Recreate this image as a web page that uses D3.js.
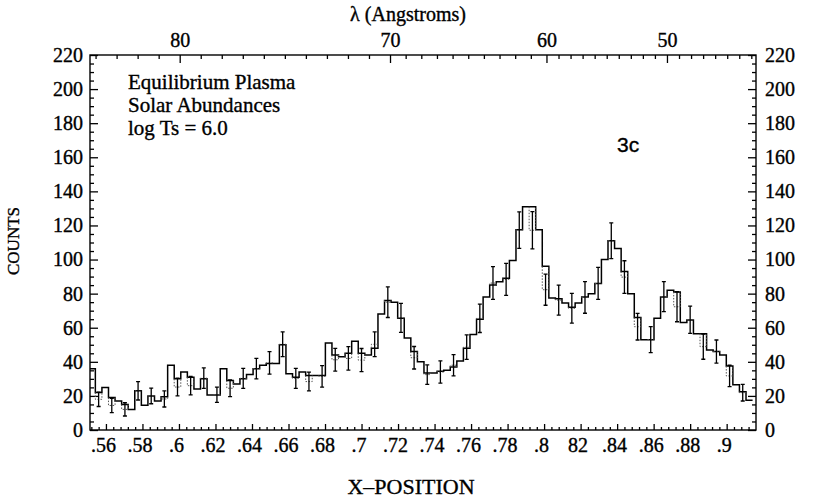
<!DOCTYPE html>
<html>
<head>
<meta charset="utf-8">
<script src="https://cdn.jsdelivr.net/npm/d3@7"></script>
<style>
  body { margin: 0; background: #fff; }
  svg { display: block; background: #fff; }
  text { font-family: "Liberation Serif", "DejaVu Serif", serif; fill: #000; stroke: #000; stroke-width: 0.35px; }
</style>
</head>
<body>
<div id="chart"></div>
<script>
/**
 * Data
 */
// model histogram, fine bins starting at binStart
const binStart = 0.5506;
const binWidth = 0.0036;
const modelCounts = [
  36, 22, 25, 19, 17, 15, 12, 23, 14.5, 20,
  17, 19.5, 38, 30, 34, 31, 24, 30, 20.5, 20.5,
  36, 29, 27, 30, 32.5, 36, 38, 39, 39, 50,
  33, 31, 34, 32, 32, 32, 51, 44, 43, 45,
  52, 45, 44, 48, 68, 76, 75, 65.5, 54, 46,
  40, 33.5, 33.5, 34.5, 35, 37, 40.5, 48, 56, 65,
  78, 85, 87, 89, 99.5, 117.5, 131, 131, 117.5, 96,
  77.5, 77, 74.5, 72, 74.5, 78, 80, 86, 100, 111,
  106.5, 93, 80, 66, 53, 53, 65.5, 78, 82, 81,
  63, 64.5, 56.5, 56.5, 47, 46, 44, 37.5, 26.5, 22.5,
  17.5
];
// measured counts, one in every other fine bin (bins 1, 3, 5 ...)
const dataCounts = [
  18, 14.4, 12.1, 23, 20, 18.2, 25.2, 26, 30.4, 20.7,
  24.5, 30.3, 36, 39.4, 50.3, 30.3, 28.4, 31.5, 41.2, 42,
  41, 50.3, 75, 65.8, 42.4, 32.5, 34, 38, 48.6, 65.5,
  86.2, 88.4, 117.3, 117.2, 82.3, 76.2, 71.4, 77.8, 86, 111,
  89.7, 60.6, 53, 78.2, 72.3, 64.7, 48.9, 46, 31.7, 21.9
];
const dataErrors = [
  4.2, 4.2, 3.9, 5.4, 4.6, 4.7, 5.2, 5.4, 6, 4.5,
  4.9, 5.9, 6, 6.6, 7.3, 5.9, 5.5, 6.3, 6.7, 6.9,
  6.8, 7.3, 9, 8.5, 6.6, 5.7, 6.5, 6.2, 7.2, 8.3,
  9.6, 9.4, 10.7, 10.9, 9.1, 8.8, 8.7, 9.3, 9.4, 10.5,
  9.6, 7.8, 7.6, 8.8, 8.8, 8, 7.4, 6.8, 6.3, 4.9
];

const xTickValues = [0.56, 0.58, 0.60, 0.62, 0.64, 0.66, 0.68, 0.70, 0.72,
  0.74, 0.76, 0.78, 0.80, 0.82, 0.84, 0.86, 0.88, 0.90];
const xTickLabels = ['.56', '.58', '.6', '.62', '.64', '.66', '.68', '.7', '.72',
  '.74', '.76', '.78', '.8', '82', '.84', '.86', '.88', '.9'];
const yTickValues = [0, 20, 40, 60, 80, 100, 120, 140, 160, 180, 200, 220];
// wavelength scale on top: lambda -> X-position
const lambdaTicks = [80, 70, 60, 50];
const lambdaAtX = [0.6004, 0.7156, 0.8013, 0.8673];
const notes = ['Equilibrium Plasma', 'Solar Abundances', 'log Ts = 6.0'];

/**
 * Basic Settings
 */
const canvasWidth = 813;
const canvasHeight = 499;
const frame = { left: 90, right: 756 };

const x = d3.scaleLinear()
  .domain([0.55127, 0.91607])
  .range([frame.left, frame.right]);
const y = d3.scaleLinear()
  .domain([0, 220])
  .range([430, 55]);
const lam = d3.scaleLinear()
  .domain(lambdaTicks)
  .range(lambdaAtX.map(x));

const svg = d3.select('#chart')
  .append('svg')
  .attr('width', canvasWidth)
  .attr('height', canvasHeight);

svg.append('defs').append('clipPath')
  .attr('id', 'plot-clip')
  .append('rect')
  .attr('x', frame.left)
  .attr('y', y(220))
  .attr('width', frame.right - frame.left)
  .attr('height', y(0) - y(220));

/**
 * Axes
 */
function styleAxis(g, size) {
  g.select('.domain').remove();
  g.selectAll('line').attr('stroke', '#000').attr('stroke-width', 1.3);
  g.selectAll('text')
    .style('font-family', '"Liberation Serif", serif')
    .style('font-size', size + 'px')
    .attr('fill', '#000');
}

const xMinor = d3.range(138, 229).map(i => i * 0.004)
  .filter(v => Math.abs(v / 0.02 - Math.round(v / 0.02)) > 1e-6);
const yMinor = d3.range(0, 221, 5).filter(v => v % 20 !== 0);
const lamMinor = d3.range(42, 85).filter(v => lambdaTicks.indexOf(v) < 0)
  .filter(v => lam(v) > frame.left + 1 && lam(v) < frame.right - 1);

// bottom
svg.append('g')
  .attr('transform', `translate(0, ${y(0)})`)
  .call(d3.axisBottom(x).tickValues(xMinor).tickFormat('').tickSizeInner(-3).tickSizeOuter(0))
  .call(g => styleAxis(g, 20));
svg.append('g')
  .attr('transform', `translate(0, ${y(0)})`)
  .call(d3.axisBottom(x).tickValues(xTickValues)
    .tickFormat((d, i) => xTickLabels[i]).tickSizeInner(-6).tickSizeOuter(0).tickPadding(8))
  .call(g => styleAxis(g, 20))
  .call(g => g.selectAll('text').attr('dx', -3));

// top (wavelength)
svg.append('g')
  .attr('transform', `translate(0, ${y(220)})`)
  .call(d3.axisTop(lam).tickValues(lamMinor).tickFormat('').tickSizeInner(-4).tickSizeOuter(0))
  .call(g => styleAxis(g, 20));
svg.append('g')
  .attr('transform', `translate(0, ${y(220)})`)
  .call(d3.axisTop(lam).tickValues(lambdaTicks).tickSizeInner(-8).tickSizeOuter(0).tickPadding(8))
  .call(g => styleAxis(g, 20));

// left
svg.append('g')
  .attr('transform', `translate(${frame.left}, 0)`)
  .call(d3.axisLeft(y).tickValues(yMinor).tickFormat('').tickSizeInner(-4).tickSizeOuter(0))
  .call(g => styleAxis(g, 20));
svg.append('g')
  .attr('transform', `translate(${frame.left}, 0)`)
  .call(d3.axisLeft(y).tickValues(yTickValues).tickSizeInner(-8).tickSizeOuter(0).tickPadding(7))
  .call(g => styleAxis(g, 20));

// right
svg.append('g')
  .attr('transform', `translate(${frame.right}, 0)`)
  .call(d3.axisRight(y).tickValues(yMinor).tickFormat('').tickSizeInner(-4).tickSizeOuter(0))
  .call(g => styleAxis(g, 20));
svg.append('g')
  .attr('transform', `translate(${frame.right}, 0)`)
  .call(d3.axisRight(y).tickValues(yTickValues).tickSizeInner(-8).tickSizeOuter(0).tickPadding(9))
  .call(g => styleAxis(g, 20));

// frame
svg.append('rect')
  .attr('x', frame.left)
  .attr('y', y(220))
  .attr('width', frame.right - frame.left)
  .attr('height', y(0) - y(220))
  .attr('fill', 'none')
  .attr('stroke', '#000')
  .attr('stroke-width', 1.4);

/**
 * Histogram + data
 */
const plot = svg.append('g').attr('clip-path', 'url(#plot-clip)');

const steps = modelCounts.map((c, k) => [binStart + k * binWidth, c]);
steps.push([binStart + modelCounts.length * binWidth, modelCounts[modelCounts.length - 1]]);

plot.append('path')
  .datum(steps)
  .attr('fill', 'none')
  .attr('stroke', '#000')
  .attr('stroke-width', 1.5)
  .attr('d', d3.line()
    .x(d => x(d[0]))
    .y(d => y(d[1]))
    .curve(d3.curveStepAfter));

const points = dataCounts.map((c, i) => {
  const k = 2 * i + 1;
  return {
    x0: binStart + k * binWidth,
    x1: binStart + (k + 1) * binWidth,
    xc: binStart + (k + 0.5) * binWidth,
    model: modelCounts[k],
    count: c,
    err: dataErrors[i]
  };
});

// dotted data levels
const dotted = plot.append('g')
  .attr('stroke', '#555')
  .attr('stroke-width', 1)
  .attr('stroke-dasharray', '1.5,1.5')
  .attr('fill', 'none');
dotted.selectAll('path')
  .data(points)
  .join('path')
  .attr('d', d => `M${x(d.x0)},${y(d.model)}V${y(d.count)}H${x(d.x1)}V${y(d.model)}`);

// error bars
const bars = plot.append('g')
  .attr('stroke', '#000')
  .attr('stroke-width', 1.3)
  .attr('fill', 'none');
bars.selectAll('path')
  .data(points)
  .join('path')
  .attr('d', d => {
    const cx = x(d.xc);
    const top = y(d.count + d.err);
    const bot = y(d.count - d.err);
    return `M${cx - 2},${top}H${cx + 2}M${cx},${top}V${bot}M${cx - 2},${bot}H${cx + 2}`;
  });

/**
 * Texts
 */
svg.append('text')
  .attr('x', 408)
  .attr('y', 21)
  .attr('text-anchor', 'middle')
  .style('font-size', '20px')
  .text('λ (Angstroms)');

svg.append('text')
  .attr('transform', 'translate(19, 241) rotate(-90)')
  .attr('text-anchor', 'middle')
  .style('font-size', '17px')
  .text('COUNTS');

svg.append('text')
  .attr('x', 411)
  .attr('y', 494)
  .attr('text-anchor', 'middle')
  .style('font-size', '22px')
  .text('X–POSITION');

svg.selectAll('text.note')
  .data(notes)
  .join('text')
  .attr('class', 'note')
  .attr('x', 128)
  .attr('y', (d, i) => 89 + i * 23)
  .style('font-size', '21px')
  .text(d => d);

svg.append('text')
  .attr('x', 617)
  .attr('y', 152)
  .style('font-family', '"Liberation Sans", Arial, sans-serif')
  .style('font-size', '21px')
  .text('3c');
</script>
</body>
</html>
